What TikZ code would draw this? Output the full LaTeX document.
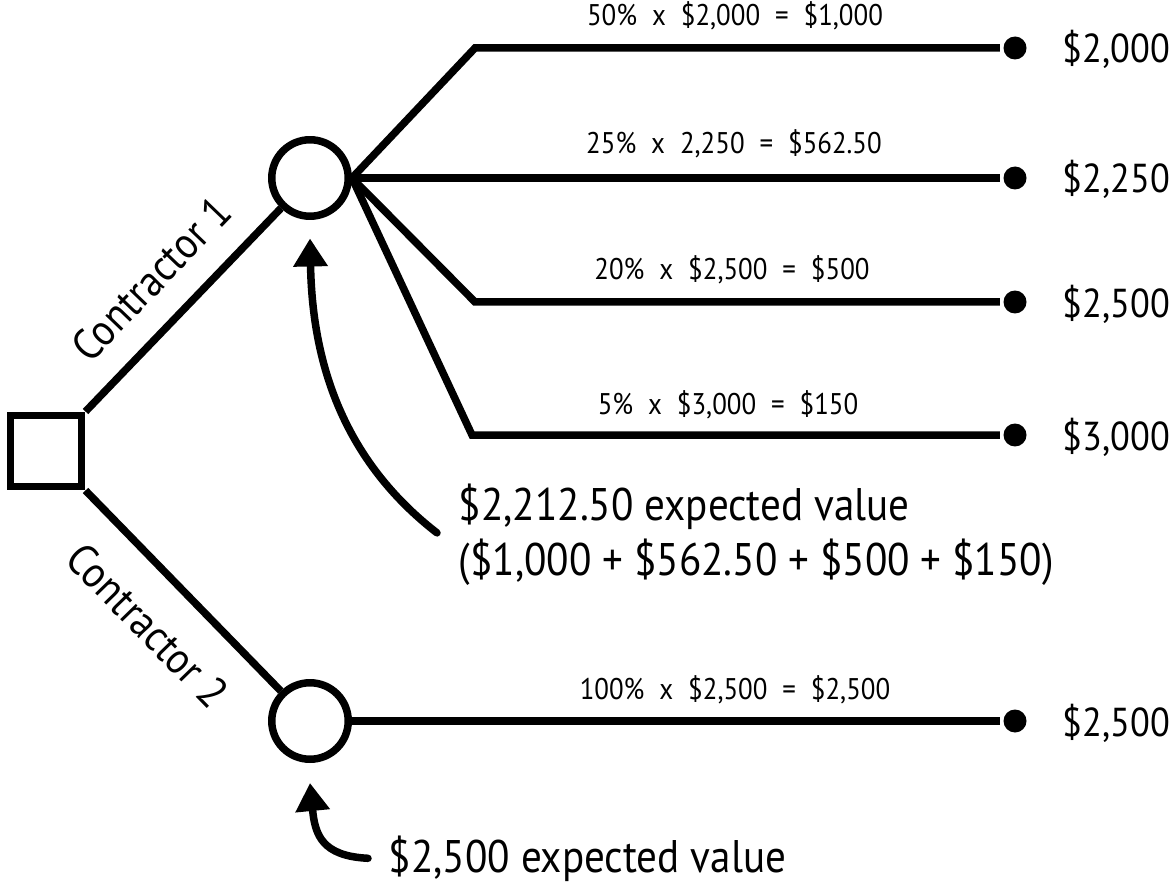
\documentclass[tikz,border=0pt]{standalone}
\usepackage{fontspec}
\setmainfont{PT Sans}[FakeStretch=0.9]
\usetikzlibrary{arrows.meta,positioning}

\begin{document}
\begin{tikzpicture}[x=0.02cm,y=-0.02cm,line width=0.15cm,
  decision/.style={draw,rectangle,minimum size=1.43cm,inner sep=0pt},
  chance/.style={draw,circle,minimum size=1.53cm,inner sep=0pt},
  leaf/.style={circle,fill,minimum size=0.46cm,inner sep=0pt},
  payoff/.style={anchor=base west,inner sep=0pt,font=\fontsize{23}{28}\selectfont},
  product/.style={inner sep=0pt,font=\fontsize{17}{20}\selectfont},
  note/.style={anchor=base west,inner sep=0pt,font=\fontsize{26}{32}\selectfont},
  branch/.style={font=\fontsize{25}{30}\selectfont,inner sep=0pt,sloped,pos=0.5},
  evarrow/.style={line cap=round,-{Triangle[length=0.56cm,width=0.66cm]}}]

\useasboundingbox (0,0) rectangle (1176,888);

% decision and chance nodes
\node[decision] (sq) at (46,451) {};
\node[chance] (c1) at (310,178) {};
\node[chance] (c2) at (310,721) {};

% corners of the branches
\coordinate (k1) at (475,48);
\coordinate (k3) at (475,302);
\coordinate (k4) at (472,435);

% leaves
\node[leaf] (d1) at (1015,48) {};
\node[leaf] (d2) at (1015,178) {};
\node[leaf] (d3) at (1015,302) {};
\node[leaf] (d4) at (1015,435) {};
\node[leaf] (d5) at (1015,721) {};

\draw (sq.north east) -- node[branch,above=0.5cm] {Contractor 1} (c1);
\draw (sq.south east) -- node[branch,below=0.6cm] {Contractor 2} (c2);

\draw (c1.east) -- (k1) -- (d1);
\draw (c1.east) -- (d2);
\draw (c1.east) -- (k3) -- (d3);
\draw (c1.east) -- (k4) -- (d4);
\draw (c2.east) -- (d5);

% products above the branches
\node[product] (l1) at (735,16) {50\%\enspace x\enspace \$2,000\enspace =\enspace \$1,000};
\node[product] (l2) at (734,144) {25\%\enspace x\enspace 2,250\enspace =\enspace \$562.50};
\node[product] (l3) at (732,270) {20\%\enspace x\enspace \$2,500\enspace =\enspace \$500};
\node[product] (l4) at (728,405) {5\%\enspace x\enspace \$3,000\enspace =\enspace \$150};
\node[product] (l5) at (735,690) {100\%\enspace x\enspace \$2,500\enspace =\enspace \$2,500};

% payoffs
\node[payoff] (p1) at (1059,63) {\$2,000};
\node[payoff] (p2) at (1059,193) {\$2,250};
\node[payoff] (p3) at (1059,317) {\$2,500};
\node[payoff] (p4) at (1059,450) {\$3,000};
\node[payoff] (p5) at (1059,736) {\$2,500};

% expected values
\node[note] (ev1) at (455,520) {\$2,212.50 expected value};
\node[note] (ev1sum) at (455,575) {(\$1,000 + \$562.50 + \$500 + \$150)};
\node[note] (ev2) at (385,872) {\$2,500 expected value};

\draw[evarrow] ([xshift=-0.36cm]ev1.south west) .. controls (330,450) and (312,340) .. ([yshift=-0.37cm]c1.south);
\draw[evarrow] ([xshift=-0.34cm]ev2.west) .. controls (322,856) and (315,835) .. ([yshift=-0.4cm]c2.south);
\end{tikzpicture}
\end{document}
